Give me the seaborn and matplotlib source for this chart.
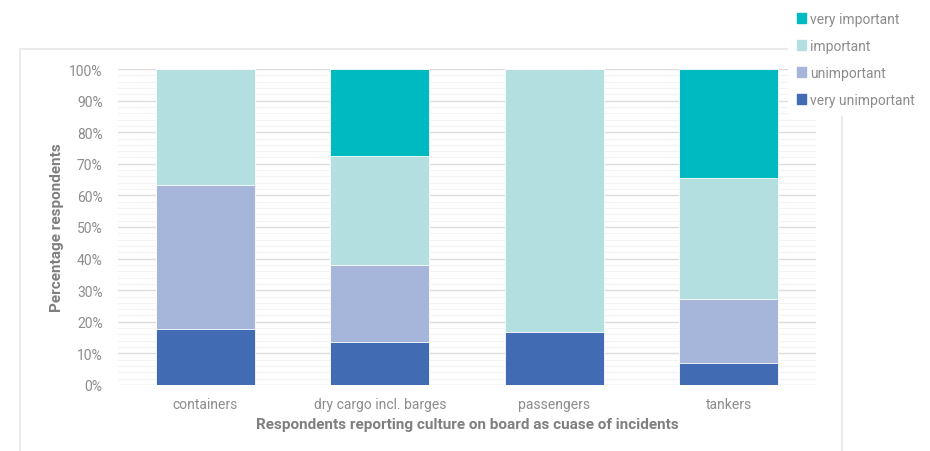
import pandas as pd
import numpy as np
import matplotlib.pyplot as plt
import matplotlib.patches as mpatches
import seaborn as sns

categories = ['containers', 'dry cargo incl. barges', 'passengers', 'tankers']
levels = ['very unimportant', 'unimportant', 'important', 'very important']
very_unimportant = [17.7, 13.6, 16.7, 6.9]
unimportant = [45.6, 24.4, 0.0, 20.4]
important = [36.7, 34.5, 83.3, 38.2]
very_important = [0.0, 27.5, 0.0, 34.5]
colors = {'very important': '#00BAC2', 'important': '#B3DFE1',
          'unimportant': '#A5B6DA', 'very unimportant': '#416BB3'}


def main():
    df = pd.DataFrame({'category': categories,
                       'very unimportant': very_unimportant,
                       'unimportant': unimportant,
                       'important': important,
                       'very important': very_important})
    # cumulative totals so each layer can be drawn from the top down
    cum = df[levels].cumsum(axis=1)
    cum['category'] = df['category']

    sns.set_style('white')
    plt.rcParams['font.family'] = ['Roboto', 'DejaVu Sans']

    fig = plt.figure(figsize=(9.3, 4.52), dpi=100)
    # outer chart frame
    fig.patches.append(mpatches.Rectangle((20 / 930, -0.1), 822 / 930, 1.1 - 50 / 452,
                                          transform=fig.transFigure, fill=False,
                                          edgecolor='#e8e8e8', linewidth=1.2, zorder=0))
    ax = fig.add_axes([118 / 930, 66 / 452, 698 / 930, 316 / 452])

    for lvl in reversed(levels):
        sns.barplot(data=cum, x='category', y=lvl, color=colors[lvl], width=0.57,
                    edgecolor='white', linewidth=0.6, saturation=1, ax=ax, zorder=3)

    ax.set_ylim(0, 100)
    ax.set_xlim(-0.5, 3.5)
    ax.set_yticks(np.arange(0, 101, 10))
    ax.set_yticks(np.arange(0, 101, 2), minor=True)
    ax.set_yticklabels([f'{v}%' for v in range(0, 101, 10)])
    ax.grid(axis='y', which='major', color='#dcdcdc', linewidth=1, zorder=0)
    ax.grid(axis='y', which='minor', color='#f3f3f3', linewidth=0.8, zorder=0)
    ax.set_axisbelow(True)
    for s in ax.spines.values():
        s.set_visible(False)
    ax.tick_params(axis='both', which='both', length=0, colors='#8c8c8c', labelsize=10)
    ax.tick_params(axis='y', pad=11)
    ax.tick_params(axis='x', pad=9)

    ax.set_ylabel('Percentage respondents', color='#7f7f7f', fontsize=11,
                  fontweight='bold', labelpad=4)
    ax.set_xlabel('Respondents reporting culture on board as cuase of incidents',
                  color='#7f7f7f', fontsize=11, fontweight='bold', labelpad=4)

    handles = [mpatches.Patch(color=colors[l], label=l) for l in reversed(levels)]
    leg = fig.legend(handles=handles, loc='upper left', bbox_to_anchor=(784 / 930, 1.0),
                     frameon=True, fontsize=10, labelspacing=0.95, handlelength=0.7,
                     handleheight=0.7, handletextpad=0.3, borderaxespad=0.3,
                     borderpad=0.6)
    leg.get_frame().set_facecolor('white')
    leg.get_frame().set_edgecolor('white')
    leg.get_frame().set_alpha(1)
    for t in leg.get_texts():
        t.set_color('#8c8c8c')

    plt.savefig('out.png', dpi=100)
    plt.close()


if __name__ == "__main__":
    main()
